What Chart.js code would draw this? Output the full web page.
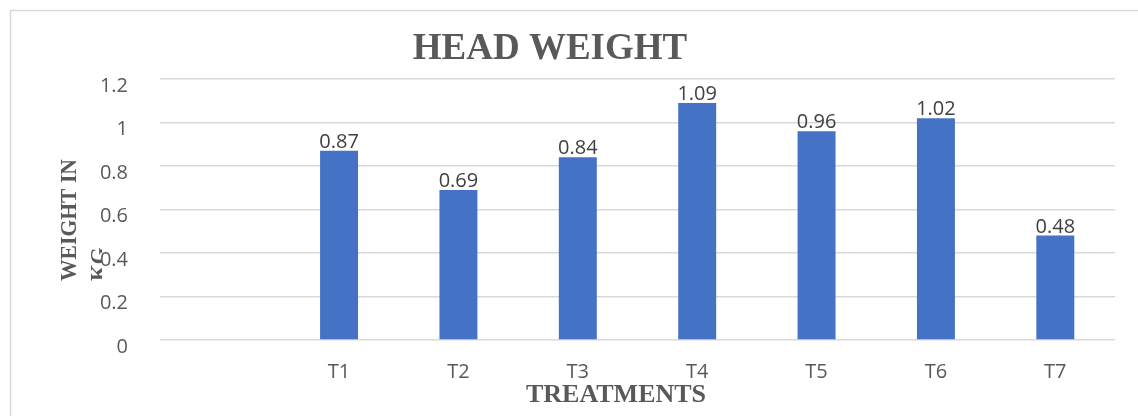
<!DOCTYPE html>
<html>
<head>
<meta charset="utf-8">
<script src="https://cdn.jsdelivr.net/npm/chart.js@4/dist/chart.umd.min.js"></script>
<style>
  html, body { margin: 0; padding: 0; background: #ffffff; }
  #wrap { width: 1138px; height: 416px; position: relative; }
</style>
</head>
<body>
<div id="wrap"><canvas id="chart"></canvas></div>
<script>
// Head weight per treatment (kg); first slot is an empty category
const categories = ["", "T1", "T2", "T3", "T4", "T5", "T6", "T7"];
const headWeight = [null, 0.87, 0.69, 0.84, 1.09, 0.96, 1.02, 0.48];
const yTicks = [0, 0.2, 0.4, 0.6, 0.8, 1, 1.2];

const chartTitle = "HEAD WEIGHT";
const xTitle = "TREATMENTS";
const yTitleLines = ["WEIGHT IN", "KG"];

const SERIF = "'Liberation Serif', 'Times New Roman', serif";
const SANS = "'Open Sans', 'Liberation Sans', sans-serif";

// Frame, titles and value labels
const decorations = {
  id: "decorations",
  beforeDraw(chart) {
    const ctx = chart.ctx;
    ctx.save();
    ctx.fillStyle = "#ffffff";
    ctx.fillRect(0, 0, chart.width, chart.height);
    ctx.strokeStyle = "#d9d9d9";
    ctx.lineWidth = 1.5;
    ctx.strokeRect(10.5, 10.5, chart.width + 40, chart.height + 40);
    ctx.restore();
  },
  afterDraw(chart) {
    const ctx = chart.ctx;
    ctx.save();

    // chart title
    ctx.fillStyle = "#595959";
    ctx.font = "bold 37px " + SERIF;
    ctx.textAlign = "center";
    ctx.textBaseline = "alphabetic";
    ctx.fillText(chartTitle, 550, 59);

    // x-axis title
    ctx.font = "bold 26px " + SERIF;
    ctx.fillText(xTitle, 616, 402);

    // y-axis title (second line cut off by its box)
    ctx.save();
    ctx.beginPath();
    ctx.rect(0, 0, 102, chart.height);
    ctx.clip();
    ctx.translate(0, 281);
    ctx.rotate(-Math.PI / 2);
    ctx.scale(0.94, 1);
    ctx.font = "bold 23px " + SERIF;
    ctx.textAlign = "left";
    ctx.fillText(yTitleLines[0], 0, 76);
    ctx.fillText(yTitleLines[1], 0, 106);
    ctx.restore();

    // value labels above bars
    const meta = chart.getDatasetMeta(0);
    ctx.fillStyle = "#404040";
    ctx.font = "20px " + SANS;
    ctx.textAlign = "center";
    ctx.textBaseline = "alphabetic";
    meta.data.forEach((bar, i) => {
      const v = headWeight[i];
      if (v === null || v === undefined) return;
      ctx.fillText(String(v), bar.x, bar.y - 3);
    });
    ctx.restore();
  }
};

new Chart(document.getElementById("chart"), {
  type: "bar",
  data: {
    labels: categories,
    datasets: [{
      data: headWeight,
      backgroundColor: "#4472c4",
      borderWidth: 0,
      barPercentage: 1,
      categoryPercentage: 0.318
    }]
  },
  options: {
    responsive: true,
    maintainAspectRatio: false,
    animation: false,
    layout: { padding: { top: 79, right: 23, left: 0, bottom: 0 } },
    plugins: {
      legend: { display: false },
      title: { display: false },
      tooltip: { enabled: false }
    },
    scales: {
      x: {
        grid: { display: false },
        border: { display: false },
        ticks: {
          color: "#595959",
          font: { family: SANS, size: 20 },
          padding: 12,
          maxRotation: 0
        },
        afterFit(axis) { axis.height = 76; }
      },
      y: {
        min: 0,
        max: 1.2,
        afterBuildTicks(axis) { axis.ticks = yTicks.map(v => ({ value: v })); },
        grid: { color: "#d9d9d9", lineWidth: 1.5, drawTicks: false },
        border: { display: false },
        ticks: {
          color: "#595959",
          font: { family: SANS, size: 20 },
          padding: 32,
          labelOffset: 7,
          callback: v => String(Number(v.toFixed(1)))
        },
        afterFit(axis) { axis.width = 160; }
      }
    }
  },
  plugins: [decorations]
});
</script>
</body>
</html>
